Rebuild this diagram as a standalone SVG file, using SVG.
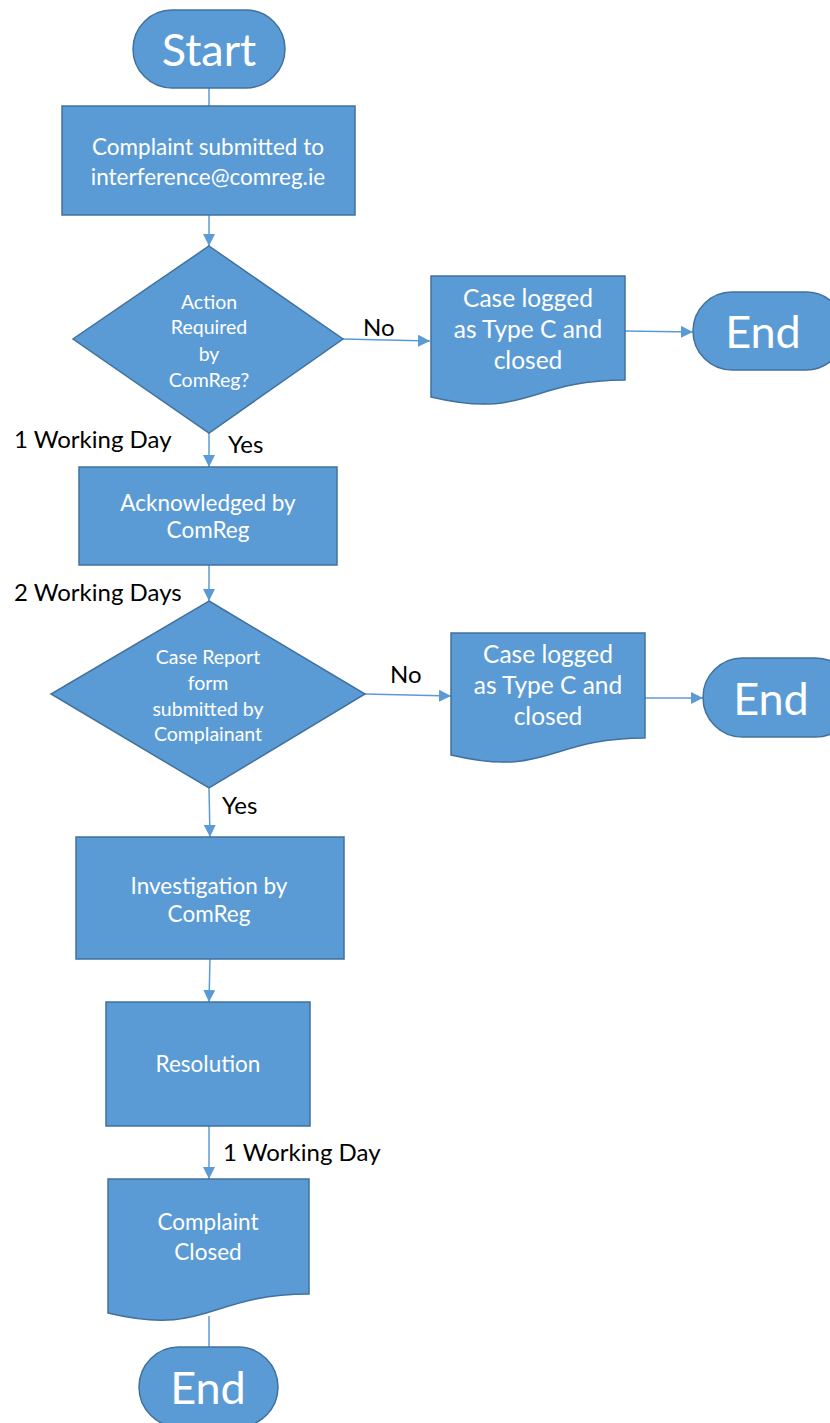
<svg xmlns="http://www.w3.org/2000/svg" width="830" height="1423" viewBox="0 0 830 1423">
<style>
.s{fill:#5b9bd5;stroke:#41719c;stroke-width:1.5}
.t{font-family:Lato,"Open Sans",sans-serif;fill:#ffffff;text-anchor:middle}
.big{font-size:45px}
.m{font-size:22.5px}
.d{font-size:19.5px}
.c{font-size:24.5px}
.l{font-family:Lato,"Open Sans",sans-serif;fill:#000000;font-size:24px}
.e{stroke:#5b9bd5;stroke-width:1.5;fill:none}
</style>
<defs>
<marker id="a" markerUnits="userSpaceOnUse" markerWidth="14" markerHeight="14" refX="12" refY="6" orient="auto">
<path d="M0,0 L12,6 L0,12 Z" fill="#5b9bd5"/>
</marker>
</defs>
<g id="connectors">
<line class="e" x1="209" y1="88" x2="209" y2="106"/>
<line class="e" x1="209" y1="215" x2="209" y2="246" marker-end="url(#a)"/>
<line class="e" x1="343" y1="339" x2="430" y2="341" marker-end="url(#a)"/>
<line class="e" x1="625" y1="331" x2="693" y2="332" marker-end="url(#a)"/>
<line class="e" x1="209" y1="433" x2="209" y2="467" marker-end="url(#a)"/>
<line class="e" x1="209" y1="565" x2="209" y2="601" marker-end="url(#a)"/>
<line class="e" x1="365" y1="694" x2="451" y2="696" marker-end="url(#a)"/>
<line class="e" x1="645" y1="698" x2="703" y2="698" marker-end="url(#a)"/>
<line class="e" x1="209" y1="788" x2="210" y2="837" marker-end="url(#a)"/>
<line class="e" x1="210" y1="959" x2="209" y2="1002" marker-end="url(#a)"/>
<line class="e" x1="209" y1="1126" x2="209" y2="1179" marker-end="url(#a)"/>
<line class="e" x1="209" y1="1316" x2="209" y2="1347"/>
</g>
<g id="labels">
<text class="l" x="363" y="336">No</text>
<text class="l" x="14" y="448">1 Working Day</text>
<text class="l" x="228" y="453">Yes</text>
<text class="l" x="14" y="601">2 Working Days</text>
<text class="l" x="390" y="683">No</text>
<text class="l" x="222" y="814">Yes</text>
<text class="l" x="223" y="1161">1 Working Day</text>
</g>
<g id="start">
<rect class="s" x="133" y="10" width="152" height="78" rx="39"/>
<text class="t big" x="209" y="66">Start</text>
</g>
<g id="submitted">
<rect class="s" x="62" y="106" width="293" height="109"/>
<text class="t m" x="208" y="155">Complaint submitted to</text>
<text class="t m" x="208" y="185">interference@comreg.ie</text>
</g>
<g id="decision1">
<polygon class="s" points="209,246 343,339 209,433 73,339"/>
<text class="t d" x="209" y="309">Action</text>
<text class="t d" x="209" y="334">Required</text>
<text class="t d" x="209" y="361">by</text>
<text class="t d" x="209" y="387">ComReg?</text>
</g>
<g id="typec1">
<path class="s" d="M431,276 H625 V380 C528,380 528,420 431,397 Z"/>
<text class="t c" x="528" y="307">Case logged</text>
<text class="t c" x="528" y="338">as Type C and</text>
<text class="t c" x="528" y="369">closed</text>
</g>
<g id="end1">
<rect class="s" x="693" y="292" width="152" height="78" rx="39"/>
<text class="t big" x="763" y="348">End</text>
</g>
<g id="acknowledged">
<rect class="s" x="79" y="467" width="258" height="98"/>
<text class="t m" x="208" y="511">Acknowledged by</text>
<text class="t m" x="208" y="538">ComReg</text>
</g>
<g id="decision2">
<polygon class="s" points="209,601 365,694 209,788 51,694"/>
<text class="t d" x="208" y="664">Case Report</text>
<text class="t d" x="208" y="690">form</text>
<text class="t d" x="208" y="716">submitted by</text>
<text class="t d" x="208" y="741">Complainant</text>
</g>
<g id="typec2">
<path class="s" d="M451,633 H645 V738 C548,738 548,778 451,755 Z"/>
<text class="t c" x="548" y="663">Case logged</text>
<text class="t c" x="548" y="694">as Type C and</text>
<text class="t c" x="548" y="725">closed</text>
</g>
<g id="end2">
<rect class="s" x="703" y="658" width="152" height="79" rx="39.5"/>
<text class="t big" x="771" y="715">End</text>
</g>
<g id="investigation">
<rect class="s" x="76" y="837" width="268" height="122"/>
<text class="t m" x="209" y="894">Investigation by</text>
<text class="t m" x="209" y="922">ComReg</text>
</g>
<g id="resolution">
<rect class="s" x="106" y="1002" width="204" height="124"/>
<text class="t m" x="208" y="1072">Resolution</text>
</g>
<g id="closed">
<path class="s" d="M108,1179 H309 V1294 C208,1294 208,1337 108,1313 Z"/>
<text class="t m" x="208" y="1230">Complaint</text>
<text class="t m" x="208" y="1260">Closed</text>
</g>
<g id="end3">
<rect class="s" x="139" y="1347" width="139" height="80" rx="40"/>
<text class="t big" x="208" y="1404">End</text>
</g>
</svg>
